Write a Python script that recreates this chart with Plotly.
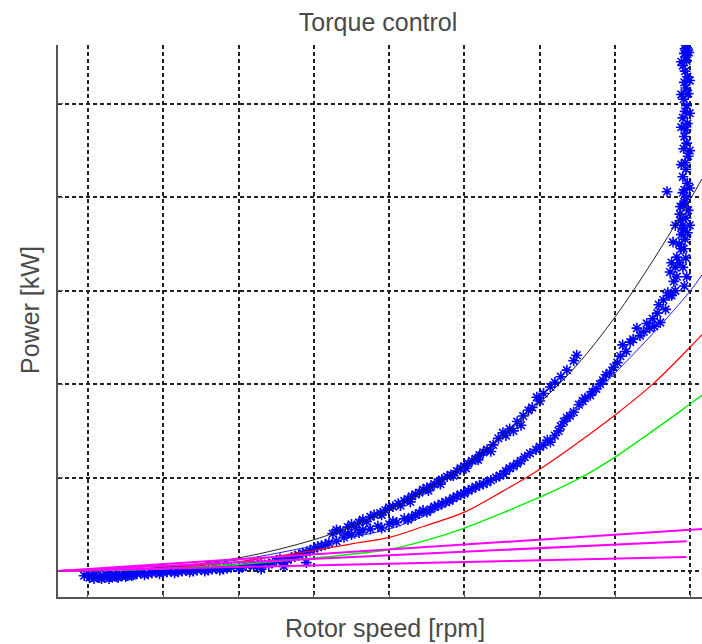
import plotly.graph_objects as go

# ---- data ----
curve_speed = [0.6, 1, 2, 3, 4, 4.5, 5, 5.5, 6, 6.5, 7, 7.5, 8, 8.5, 9, 9.154]
power_black = [0, 0.005, 0.04, 0.14, 0.335, 0.48, 0.655, 0.87, 1.13, 1.44, 1.8, 2.21, 2.72, 3.32, 3.98, 4.2]
power_blue = [0, 0.004, 0.035, 0.12, 0.27, 0.36, 0.45, 0.6, 0.8, 1.03, 1.34, 1.72, 2.12, 2.54, 3.0, 3.17]
power_red = [0, 0.004, 0.03, 0.1, 0.22, 0.29, 0.36, 0.49, 0.63, 0.85, 1.09, 1.37, 1.67, 2.0, 2.4, 2.53]
power_green = [0, 0.004, 0.025, 0.07, 0.14, 0.18, 0.23, 0.33, 0.46, 0.62, 0.79, 0.98, 1.22, 1.5, 1.79, 1.88]

mag_top_speed = [0.6, 9.154]
mag_top_power = [0, 0.45]
mag_mid_speed = [0.6, 8.95]
mag_mid_power = [0, 0.32]
mag_low_speed = [0.6, 8.95]
mag_low_power = [0, 0.15]

# measured points (rotor speed, power)
meas_low = [(0.95, -0.05), (1.0, -0.03), (1.05, -0.06), (1.1, -0.04), (1.15, -0.07), (1.2, -0.05),
            (1.25, -0.03), (1.3, -0.06), (1.35, -0.04), (1.4, -0.07), (1.45, -0.05), (1.5, -0.06),
            (1.55, -0.03), (1.6, -0.04), (1.7, -0.02), (1.8, -0.03), (1.9, -0.01), (2.0, -0.02),
            (2.1, 0.0), (2.2, -0.01), (2.3, 0.01), (2.4, 0.0), (2.5, 0.02), (2.6, 0.01), (2.7, 0.03),
            (2.8, 0.02), (2.9, 0.04), (3.0, 0.03), (3.1, 0.06), (3.2, 0.05), (3.3, 0.08), (3.4, 0.07),
            (3.5, 0.11), (3.6, 0.1), (3.7, 0.14), (3.8, 0.17), (3.9, 0.2), (4.0, 0.24), (4.1, 0.27),
            (4.2, 0.3), (3.3, 0.02), (3.6, 0.05), (3.9, 0.09),
            (1.02, -0.07), (1.08, -0.08), (1.12, -0.06), (1.18, -0.08), (1.22, -0.07), (1.28, -0.08),
            (1.32, -0.05), (1.38, -0.06), (1.42, -0.04), (1.48, -0.03), (1.52, -0.05), (1.58, -0.05),
            (1.65, -0.03), (1.75, -0.04), (1.85, -0.02), (1.95, -0.03), (2.05, -0.01), (2.15, -0.02),
            (2.25, 0.0), (2.35, -0.01), (2.45, 0.01), (2.55, 0.0), (2.65, 0.02), (2.75, 0.01),
            (2.85, 0.03), (3.05, 0.04), (3.15, 0.08), (3.25, 0.06), (3.45, 0.09), (3.55, 0.13),
            (3.65, 0.12), (3.75, 0.16), (3.85, 0.19), (3.95, 0.22), (4.05, 0.26), (4.15, 0.28)]
meas_upper = [(4.25, 0.4), (4.35, 0.43), (4.45, 0.47), (4.5, 0.5), (4.6, 0.52), (4.65, 0.55), (4.75, 0.58),
              (4.8, 0.6), (4.88, 0.62), (4.95, 0.65), (5.0, 0.68), (5.05, 0.69), (5.12, 0.72), (5.2, 0.75),
              (5.25, 0.77), (5.3, 0.8), (5.35, 0.82), (5.4, 0.84), (5.45, 0.87), (5.5, 0.89), (5.55, 0.9),
              (5.6, 0.93), (5.65, 0.95), (5.7, 0.98), (5.77, 1.01), (5.82, 1.03), (5.9, 1.07), (5.95, 1.1),
              (6.0, 1.12), (6.05, 1.15), (6.1, 1.18), (6.15, 1.2), (6.2, 1.24), (6.25, 1.27), (6.3, 1.3),
              (6.38, 1.35), (6.45, 1.42), (6.51, 1.48), (6.6, 1.52), (6.7, 1.6), (6.78, 1.66), (6.85, 1.72),
              (6.96, 1.86), (7.14, 1.97), (7.36, 2.15), (7.49, 2.31), (7.45, 2.25),
              (4.3, 0.44), (4.55, 0.47), (4.7, 0.53), (4.9, 0.6), (5.15, 0.7), (5.28, 0.74), (5.52, 0.86),
              (5.68, 0.93), (5.85, 1.02), (6.02, 1.1), (6.18, 1.19), (6.35, 1.28), (6.55, 1.45),
              (6.65, 1.5), (6.75, 1.56), (6.9, 1.75), (7.0, 1.82), (7.05, 1.9), (7.2, 2.02), (7.28, 2.08)]
meas_lower = [(4.3, 0.32), (4.4, 0.36), (4.5, 0.39), (4.65, 0.44), (4.75, 0.45), (4.85, 0.48), (5.0, 0.5),
              (5.1, 0.52), (5.2, 0.56), (5.3, 0.58), (5.4, 0.62), (5.45, 0.65), (5.55, 0.66), (5.65, 0.7),
              (5.75, 0.74), (5.85, 0.78), (5.95, 0.82), (6.05, 0.86), (6.15, 0.9), (6.25, 0.93), (6.35, 0.97),
              (6.47, 1.02), (6.55, 1.07), (6.65, 1.12), (6.75, 1.18), (6.87, 1.26), (6.95, 1.3), (7.05, 1.35),
              (7.14, 1.38), (7.2, 1.45), (7.28, 1.55), (7.36, 1.64), (7.45, 1.7), (7.52, 1.78), (7.57, 1.82),
              (7.67, 1.88), (7.75, 1.95), (7.84, 2.04), (7.93, 2.12), (8.03, 2.23), (8.1, 2.42), (8.15, 2.35),
              (8.24, 2.48), (8.29, 2.6), (8.38, 2.56), (8.46, 2.6), (8.5, 2.7), (8.56, 2.76), (8.6, 2.66),
              (8.64, 2.9), (8.7, 2.98), (8.73, 3.2), (8.78, 3.1), (8.82, 3.36), (8.77, 3.52), (8.85, 3.3),
              (8.9, 3.65), (8.86, 3.82), (8.88, 3.45), (8.69, 4.06), (8.92, 3.95), (8.9, 4.05),
              (4.45, 0.4), (4.6, 0.41), (4.9, 0.46), (5.05, 0.53), (5.25, 0.55), (5.35, 0.6), (5.5, 0.63),
              (5.6, 0.69), (5.7, 0.72), (5.8, 0.75), (5.9, 0.8), (6.0, 0.83), (6.1, 0.88), (6.2, 0.92),
              (6.3, 0.95), (6.42, 1.0), (6.52, 1.04), (6.6, 1.1), (6.7, 1.15), (6.8, 1.22), (7.0, 1.33),
              (7.1, 1.4), (7.25, 1.5), (7.32, 1.6), (7.4, 1.66), (7.6, 1.85), (7.7, 1.92), (7.8, 2.0),
              (7.88, 2.1), (7.98, 2.18), (8.07, 2.3), (8.2, 2.45), (8.33, 2.52), (8.42, 2.65), (8.52, 2.62),
              (8.58, 2.85), (8.67, 2.8), (8.75, 2.95), (8.8, 3.25),
              (8.75, 3.3), (8.8, 3.0), (8.72, 2.95), (8.82, 3.15), (8.85, 3.5), (8.8, 3.7), (8.87, 3.75)]
meas_column = [(8.92, 3.05), (8.95, 3.15), (8.9, 3.25), (8.94, 3.35), (8.91, 3.45),
               (8.93, 3.55), (8.96, 3.62), (8.9, 3.7), (8.94, 3.78), (8.97, 3.86), (8.91, 3.93),
               (8.95, 4.0), (8.92, 4.08), (8.96, 4.15), (8.9, 4.22), (8.94, 4.3), (8.93, 4.37),
               (8.97, 4.44), (8.91, 4.52), (8.95, 4.58), (8.92, 4.65), (8.94, 4.72), (8.96, 4.79),
               (8.9, 4.85), (8.93, 4.92), (8.95, 4.98), (8.91, 5.05), (8.97, 5.11), (8.94, 5.17),
               (8.92, 5.23), (8.96, 5.29), (8.93, 5.35), (8.9, 5.41), (8.95, 5.46), (8.94, 5.5),
               (8.92, 5.54), (8.96, 5.57), (8.93, 5.59), (8.95, 5.6),
               (8.88, 3.6), (8.99, 3.7), (8.87, 3.9), (8.99, 4.1), (8.88, 4.35), (8.99, 4.5),
               (8.88, 4.75), (8.99, 4.9), (8.88, 5.1), (8.99, 5.25), (8.88, 5.45), (8.98, 5.55)]

x_grid = [1, 2, 3, 4, 5, 6, 7, 8, 9]
y_grid = [0, 1, 2, 3, 4, 5]
x_range = [0.602, 9.154]
y_range = [-0.278, 5.63]

# ---- figure ----
fig = go.Figure()

meas = meas_low + meas_upper + meas_lower + meas_column
fig.add_trace(go.Scatter(
    x=[p[0] for p in meas], y=[p[1] for p in meas], mode="markers",
    marker=dict(symbol="asterisk-open", size=9, color="#0000FF",
                line=dict(color="#0000FF", width=1.6)),
    showlegend=False))

spline = dict(shape="spline", smoothing=1.0)
fig.add_trace(go.Scatter(x=curve_speed, y=power_black, mode="lines",
                         line=dict(color="#222222", width=1, **spline), showlegend=False))
fig.add_trace(go.Scatter(x=curve_speed, y=power_blue, mode="lines",
                         line=dict(color="#2020FF", width=1, **spline), showlegend=False))
fig.add_trace(go.Scatter(x=curve_speed, y=power_red, mode="lines",
                         line=dict(color="#FF0000", width=1.2, **spline), showlegend=False))
fig.add_trace(go.Scatter(x=curve_speed, y=power_green, mode="lines",
                         line=dict(color="#00EE00", width=1.4, **spline), showlegend=False))
for sx, sy in [(mag_top_speed, mag_top_power), (mag_mid_speed, mag_mid_power), (mag_low_speed, mag_low_power)]:
    fig.add_trace(go.Scatter(x=sx, y=sy, mode="lines",
                             line=dict(color="#FF00FF", width=2), showlegend=False))

axis_common = dict(showgrid=True, gridcolor="#222222", gridwidth=1.5, griddash="4px,3px",
                   zeroline=False, showline=True, linecolor="#555555", linewidth=1.5,
                   showticklabels=False, ticks="inside", ticklen=5, tickcolor="#555555",
                   tickmode="array")

fig.update_xaxes(range=x_range, tickvals=x_grid, mirror=False, **axis_common)
fig.update_yaxes(range=y_range, tickvals=y_grid, mirror=False, **axis_common)

text_font = dict(family="Liberation Sans, Arial, sans-serif", size=25, color="#4a4a4a")

fig.update_layout(
    width=702, height=644,
    margin=dict(l=58, r=0, t=45, b=47),
    paper_bgcolor="white", plot_bgcolor="white",
    title=dict(text="Torque control", x=0.497, xref="paper", xanchor="center",
               y=1 - 22 / 644, yref="container", yanchor="middle", font=text_font),
    annotations=[
        dict(text="Rotor speed [rpm]", xref="paper", yref="paper", x=0.508, y=-0.056,
             xanchor="center", yanchor="middle", showarrow=False, font=text_font),
        dict(text="Power [kW]", xref="paper", yref="paper", x=-0.0435, y=0.52,
             xanchor="center", yanchor="middle", showarrow=False, textangle=-90, font=text_font),
    ],
)

fig.write_html("out.html")
